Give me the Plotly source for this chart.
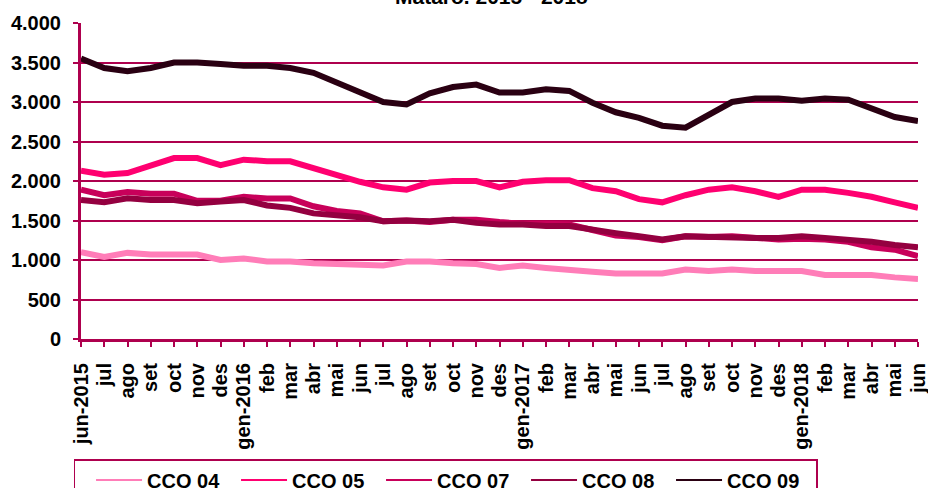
import plotly.graph_objects as go

months = ["jun-2015", "jul", "ago", "set", "oct", "nov", "des", "gen-2016", "feb", "mar",
          "abr", "mai", "jun", "jul", "ago", "set", "oct", "nov", "des", "gen-2017",
          "feb", "mar", "abr", "mai", "jun", "jul", "ago", "set", "oct", "nov", "des",
          "gen-2018", "feb", "mar", "abr", "mai", "jun"]

cco04 = [1100, 1040, 1090, 1070, 1070, 1070, 1000, 1020, 980, 980, 960, 950, 930, 930,
         980, 980, 960, 950, 900, 930, 900, 870, 850, 830, 830, 830, 880, 860, 880, 860,
         860, 860, 810, 810, 810, 780, 760]
cco05 = [2130, 2080, 2100, 2200, 2290, 2290, 2200, 2270, 2250, 2250, 2160, 2080, 1990,
         1920, 1890, 1980, 2000, 2000, 1920, 1990, 2010, 2010, 1910, 1870, 1770, 1730,
         1820, 1890, 1920, 1870, 1800, 1890, 1890, 1850, 1800, 1730, 1660]
cco07 = [1890, 1820, 1860, 1840, 1840, 1750, 1750, 1800, 1780, 1780, 1680, 1620, 1590,
         1490, 1500, 1480, 1510, 1510, 1480, 1460, 1460, 1450, 1380, 1310, 1290, 1250,
         1300, 1290, 1300, 1280, 1260, 1270, 1260, 1230, 1160, 1130, 1050]
cco08 = [1760, 1730, 1780, 1760, 1760, 1720, 1740, 1760, 1690, 1660, 1590, 1560, 1540,
         1490, 1500, 1490, 1510, 1470, 1450, 1450, 1430, 1430, 1380, 1340, 1300, 1260,
         1300, 1290, 1280, 1280, 1280, 1300, 1280, 1260, 1230, 1190, 1160]
cco09 = [3550, 3430, 3390, 3430, 3500, 3500, 3480, 3460, 3460, 3430, 3370, 3250, 3140,
         3000, 2970, 3110, 3190, 3220, 3120, 3120, 3160, 3140, 2990, 2870, 2800, 2700,
         2675, 2840, 3000, 3045, 3045, 3015, 3045, 3030, 2920, 2810, 2760]

series_names = ["CCO 04", "CCO 05", "CCO 07", "CCO 08", "CCO 09"]
series_values = [cco04, cco05, cco07, cco08, cco09]
colors = ["#FF7DB8", "#FF0070", "#C8005A", "#940040", "#2A0012"]
y_ticks = [0, 500, 1000, 1500, 2000, 2500, 3000, 3500, 4000]
title_text = "Mataró. 2015 - 2018"

AX = "#AE004E"
FONT = "Liberation Sans, Arial, sans-serif"
x_idx = list(range(len(months)))

fig = go.Figure()
for name, vals, col in zip(series_names, series_values, colors):
    fig.add_trace(go.Scatter(x=x_idx, y=vals, mode="lines", name=name,
                             line=dict(color=col, width=6), showlegend=False,
                             hoverinfo="skip"))
for name, col in zip(series_names, colors):
    fig.add_trace(go.Scatter(x=[None], y=[None], mode="lines", name=name,
                             line=dict(color=col, width=2), showlegend=True))

fig.update_layout(
    width=928, height=488,
    margin=dict(l=81, r=10, t=23, b=149, autoexpand=False),
    paper_bgcolor="white", plot_bgcolor="white",
    separators=",.",
    font=dict(family=FONT, size=20, color="black"),
    showlegend=True,
    legend=dict(orientation="h", x=-0.0084, y=-0.38, xanchor="left", yanchor="top",
                bordercolor=AX, borderwidth=1.5, bgcolor="white",
                title=dict(text="\u00a0", side="left",
                           font=dict(family=FONT, size=20)),
                font=dict(family=FONT, size=20, color="black", weight="bold"),
                entrywidth=84, entrywidthmode="pixels", itemwidth=46,
                tracegroupgap=0),
    annotations=[dict(text="<b>" + title_text + "</b>", xref="paper", yref="paper",
                      x=0.49, y=1.042, xanchor="center", yanchor="bottom",
                      showarrow=False, font=dict(family=FONT, size=21, color="black"))],
)
fig.update_xaxes(range=[0, len(months) - 1], tickvals=x_idx, ticktext=months,
                 tickangle=-90, showgrid=False, zeroline=False, automargin=False,
                 showline=True, linecolor=AX, linewidth=3,
                 ticks="outside", ticklen=5, tickwidth=2, tickcolor=AX,
                 ticklabelstandoff=8, ticklabeloverflow="allow",
                 tickfont=dict(family=FONT, size=20, color="black", weight="bold"))
fig.update_yaxes(range=[0, 4000], tickvals=y_ticks, tickformat=",d",
                 showgrid=True, gridcolor=AX, gridwidth=1.5, zeroline=False,
                 automargin=False,
                 showline=True, linecolor=AX, linewidth=3,
                 ticks="outside", ticklen=5, tickwidth=2, tickcolor=AX,
                 ticklabelstandoff=8,
                 tickfont=dict(family=FONT, size=20, color="black", weight="bold"))

fig.write_html("out.html", config={"displayModeBar": False},
               post_script="document.body.style.margin='0px';")
